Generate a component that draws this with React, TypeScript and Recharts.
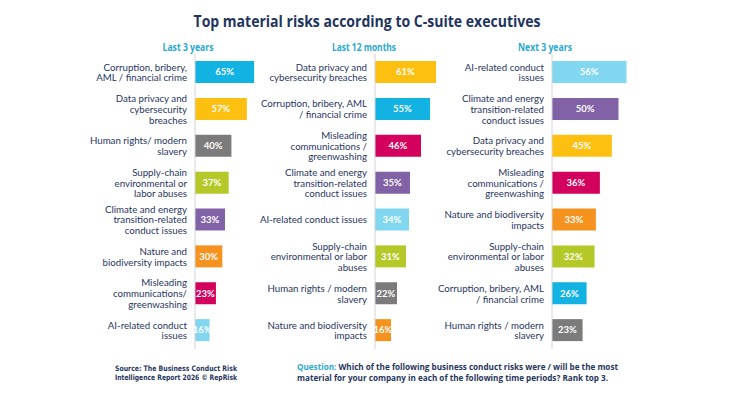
import React from "react";
import { BarChart, Bar, XAxis, YAxis, Cell, LabelList } from "recharts";

// label text uses "\n" for the line breaks seen in the original
const labels3y = [
  "Corruption, bribery,\nAML / financial crime",
  "Data privacy and\ncybersecurity\nbreaches",
  "Human rights/ modern\nslavery",
  "Supply-chain\nenvironmental or\nlabor abuses",
  "Climate and energy\ntransition-related\nconduct issues",
  "Nature and\nbiodiversity impacts",
  "Misleading\ncommunications/\ngreenwashing",
  "AI-related conduct\nissues",
];
const keys3y = ["corruption", "data", "human", "supply", "climate", "nature", "misleading", "ai"];
const values3y = [65, 57, 40, 37, 33, 30, 23, 16];

const labels12m = [
  "Data privacy and\ncybersecurity breaches",
  "Corruption, bribery, AML\n/ financial crime",
  "Misleading\ncommunications /\ngreenwashing",
  "Climate and energy\ntransition-related\nconduct issues",
  "AI-related conduct issues",
  "Supply-chain\nenvironmental or labor\nabuses",
  "Human rights / modern\nslavery",
  "Nature and biodiversity\nimpacts",
];
const keys12m = ["data", "corruption", "misleading", "climate", "ai", "supply", "human", "nature"];
const values12m = [61, 55, 46, 35, 34, 31, 22, 16];

const labelsNext = [
  "AI-related conduct\nissues",
  "Climate and energy\ntransition-related\nconduct issues",
  "Data privacy and\ncybersecurity breaches",
  "Misleading\ncommunications /\ngreenwashing",
  "Nature and biodiversity\nimpacts",
  "Supply-chain\nenvironmental or labor\nabuses",
  "Corruption, bribery, AML\n/ financial crime",
  "Human rights / modern\nslavery",
];
const keysNext = ["ai", "climate", "data", "misleading", "nature", "supply", "corruption", "human"];
const valuesNext = [56, 50, 45, 36, 33, 32, 26, 23];

const COLORS: Record<string, string> = {
  corruption: "#12b2e2",
  data: "#fdc010",
  human: "#7b7b7b",
  supply: "#b4c927",
  climate: "#8262a6",
  nature: "#f6921e",
  misleading: "#d4005e",
  ai: "#80d7ef",
};

const NAVY = "#1f3560";
const TEAL = "#29a9cf";
const FONT = "Lato, 'Open Sans', sans-serif";

const CategoryTick = (props: any) => {
  const { x, y, payload } = props;
  const lines = String(payload.value).split("\n");
  const lh = 10.7;
  const start = y - ((lines.length - 1) * lh) / 2 + 3.5;
  return (
    <text x={x} y={start} textAnchor="end" fill={NAVY} fontSize={9.7} fontFamily={FONT}>
      {lines.map((l, i) => (
        <tspan key={i} x={x} y={start + i * lh}>
          {l}
        </tspan>
      ))}
    </text>
  );
};

function Panel({
  labels,
  keys,
  values,
  left,
  axisWidth,
  plotWidth,
}: {
  labels: string[];
  keys: string[];
  values: number[];
  left: number;
  axisWidth: number;
  plotWidth: number;
}) {
  const data = labels.map((name, i) => ({ name, key: keys[i], value: values[i] }));
  return (
    <div style={{ position: "absolute", left, top: 0 }}>
      <BarChart
        width={axisWidth + plotWidth + 10}
        height={400}
        data={data}
        layout="vertical"
        margin={{ top: 54, right: 10, bottom: 51, left: 0 }}
      >
        <XAxis type="number" domain={[0, 100]} hide />
        <YAxis
          type="category"
          dataKey="name"
          width={axisWidth}
          tickLine={false}
          axisLine={{ stroke: "#d4d4d4" }}
          tick={<CategoryTick />}
          interval={0}
        />
        <Bar dataKey="value" barSize={22} isAnimationActive={false}>
          {data.map((d) => (
            <Cell key={d.key} fill={COLORS[d.key]} />
          ))}
          <LabelList
            dataKey="value"
            position="center"
            formatter={(v: any) => `${v}%`}
            fill="#ffffff"
            fontSize={9.5}
            fontWeight="bold"
            fontFamily={FONT}
          />
        </Bar>
      </BarChart>
    </div>
  );
}

export default function App() {
  return (
    <div
      style={{
        position: "absolute",
        left: 0,
        top: 0,
        width: 735,
        height: 400,
        background: "#ffffff",
        overflow: "hidden",
        fontFamily: FONT,
      }}
    >
      <svg width={735} height={400} style={{ position: "absolute", left: 0, top: 0 }}>
        <text
          x={367}
          y={27}
          textAnchor="middle"
          fill={NAVY}
          fontSize={16.5}
          fontWeight="bold"
          fontFamily="'Open Sans', sans-serif"
          textLength={347}
          lengthAdjust="spacingAndGlyphs"
        >
          Top material risks according to C-suite executives
        </text>
        <text x={188} y={51} textAnchor="middle" fill={TEAL} fontSize={10.5} fontWeight="bold" fontFamily="'Open Sans', sans-serif" textLength={51} lengthAdjust="spacingAndGlyphs">
          Last 3 years
        </text>
        <text x={364} y={51} textAnchor="middle" fill={TEAL} fontSize={10.5} fontWeight="bold" fontFamily="'Open Sans', sans-serif" textLength={64} lengthAdjust="spacingAndGlyphs">
          Last 12 months
        </text>
        <text x={545} y={51} textAnchor="middle" fill={TEAL} fontSize={10.5} fontWeight="bold" fontFamily="'Open Sans', sans-serif" textLength={54} lengthAdjust="spacingAndGlyphs">
          Next 3 years
        </text>
        <text x={115} y={371} fill={NAVY} fontSize={7.5} fontWeight="bold" fontFamily="'DejaVu Sans', sans-serif" textLength={122} lengthAdjust="spacingAndGlyphs">
          Source: The Business Conduct Risk
        </text>
        <text x={115} y={380} fill={NAVY} fontSize={7.5} fontWeight="bold" fontFamily="'DejaVu Sans', sans-serif" textLength={122} lengthAdjust="spacingAndGlyphs">
          Intelligence Report 2026 © RepRisk
        </text>
        <text x={297} y={370} fill={NAVY} fontSize={8.5} fontWeight="bold" fontFamily="'Open Sans', sans-serif" textLength={321} lengthAdjust="spacingAndGlyphs">
          <tspan fill={TEAL}>Question:</tspan> Which of the following business conduct risks were / will be the most
        </text>
        <text x={297} y={381} fill={NAVY} fontSize={8.5} fontWeight="bold" fontFamily="'Open Sans', sans-serif" textLength={311} lengthAdjust="spacingAndGlyphs">
          material for your company in each of the following time periods? Rank top 3.
        </text>
      </svg>
      <Panel labels={labels3y} keys={keys3y} values={values3y} left={0} axisWidth={195} plotWidth={91} />
      <Panel labels={labels12m} keys={keys12m} values={values12m} left={225} axisWidth={150} plotWidth={100} />
      <Panel labels={labelsNext} keys={keysNext} values={valuesNext} left={402} axisWidth={150} plotWidth={133} />
    </div>
  );
}
